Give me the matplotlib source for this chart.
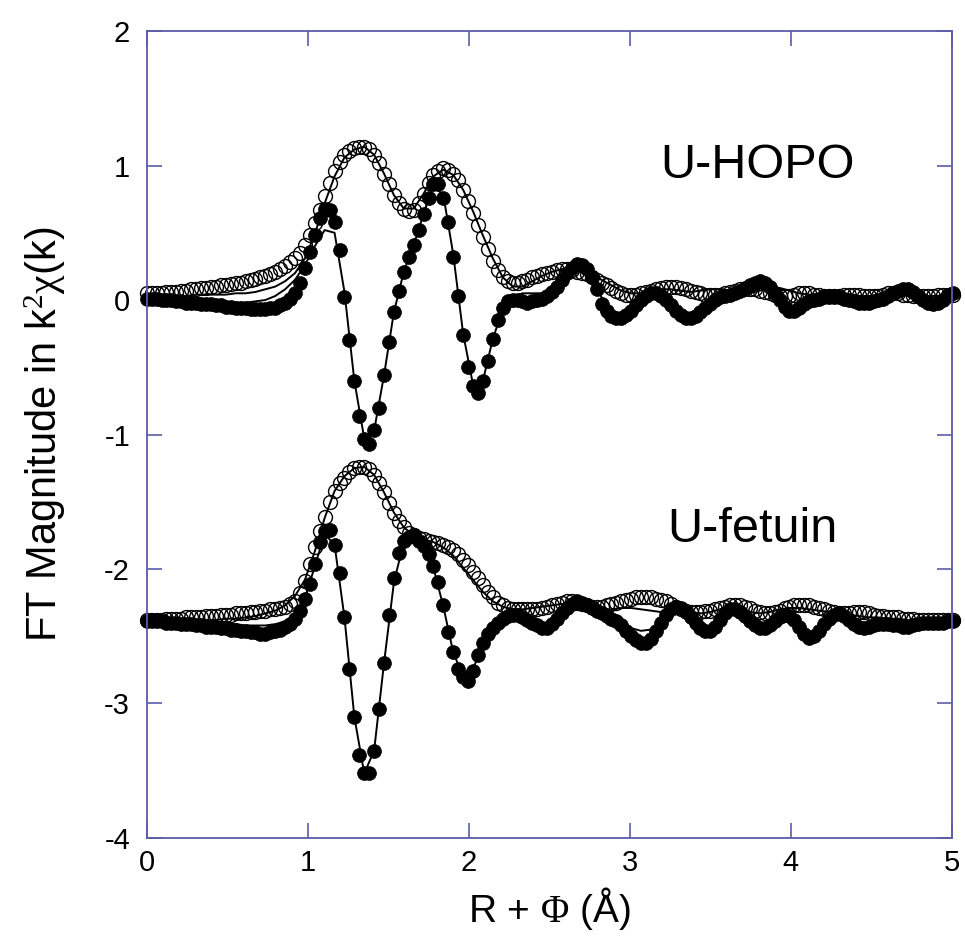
import matplotlib
matplotlib.use("Agg")
import matplotlib.pyplot as plt
import numpy as np

# FT grid step (Angstrom), data points are every dr, fits every 2*dr
dr = 0.0307

# U-HOPO, magnitude (open) and real part (filled)
hopo_mag = [0.05, 0.05, 0.05, 0.05, 0.06, 0.06, 0.06, 0.07, 0.07, 0.08,
            0.08, 0.09, 0.09, 0.10, 0.10, 0.11, 0.11, 0.12, 0.13, 0.13,
            0.14, 0.15, 0.16, 0.17, 0.18, 0.19, 0.21, 0.23, 0.25, 0.28,
            0.31, 0.35, 0.41, 0.48, 0.57, 0.67, 0.77, 0.87, 0.96, 1.03,
            1.08, 1.11, 1.13, 1.14, 1.14, 1.12, 1.08, 1.02, 0.94, 0.86,
            0.78, 0.72, 0.68, 0.66, 0.67, 0.72, 0.79, 0.87, 0.93, 0.96,
            0.98, 0.97, 0.94, 0.89, 0.82, 0.74, 0.65, 0.56, 0.47, 0.38,
            0.29, 0.22, 0.17, 0.14, 0.13, 0.13, 0.14, 0.15, 0.17, 0.18,
            0.19, 0.20, 0.21, 0.22, 0.23, 0.23, 0.22, 0.21, 0.20, 0.19,
            0.17, 0.15, 0.13, 0.11, 0.09, 0.07, 0.05, 0.04, 0.04, 0.04,
            0.05, 0.06, 0.07, 0.08, 0.09, 0.10, 0.10, 0.10, 0.09, 0.08,
            0.07, 0.06, 0.05, 0.04, 0.04, 0.04, 0.04, 0.05, 0.06, 0.07,
            0.08, 0.08, 0.08, 0.08, 0.07, 0.06, 0.05, 0.04, 0.03, 0.03,
            0.03, 0.04, 0.05, 0.05, 0.05, 0.04, 0.04, 0.03, 0.03, 0.03,
            0.03, 0.04, 0.04, 0.04, 0.04, 0.03, 0.03, 0.03, 0.03, 0.04,
            0.05, 0.05, 0.05, 0.04, 0.04, 0.03, 0.03, 0.03, 0.03, 0.03,
            0.04, 0.04, 0.04, 0.04]
hopo_re = [0.01, 0.01, 0.01, 0.00, 0.00, 0.00, -0.01, -0.01, -0.02, -0.02,
           -0.02, -0.03, -0.03, -0.03, -0.04, -0.04, -0.05, -0.05, -0.06, -0.06,
           -0.06, -0.07, -0.07, -0.07, -0.07, -0.06, -0.06, -0.04, -0.02, 0.01,
           0.05, 0.13, 0.24, 0.36, 0.48, 0.61, 0.68, 0.67, 0.58, 0.37,
           0.02, -0.30, -0.60, -0.86, -1.03, -1.07, -0.97, -0.80, -0.56, -0.31,
           -0.09, 0.07, 0.21, 0.32, 0.41, 0.52, 0.64, 0.76, 0.86, 0.86,
           0.76, 0.58, 0.32, 0.03, -0.26, -0.50, -0.64, -0.69, -0.60, -0.45,
           -0.29, -0.15, -0.06, -0.01, 0.00, 0.00, -0.01, -0.02, -0.01, 0.00,
           0.01, 0.03, 0.06, 0.10, 0.15, 0.20, 0.24, 0.27, 0.26, 0.23,
           0.17, 0.08, -0.03, -0.08, -0.12, -0.13, -0.13, -0.11, -0.08, -0.04,
           0.00, 0.03, 0.05, 0.05, 0.03, 0.00, -0.04, -0.08, -0.11, -0.13,
           -0.13, -0.12, -0.09, -0.06, -0.03, 0.00, 0.02, 0.03, 0.04, 0.05,
           0.07, 0.09, 0.11, 0.13, 0.14, 0.13, 0.10, 0.05, 0.00, -0.05,
           -0.08, -0.08, -0.06, -0.03, -0.01, 0.00, 0.01, 0.02, 0.02, 0.02,
           0.02, 0.01, 0.00, -0.01, -0.02, -0.02, -0.02, -0.01, 0.00, 0.01,
           0.03, 0.05, 0.07, 0.08, 0.08, 0.06, 0.03, 0.00, -0.02, -0.03,
           -0.02, 0.00, 0.03, 0.05]

# U-fetuin (plotted with its own baseline near -2.4)
fet_mag = [-2.38, -2.38, -2.38, -2.38, -2.37, -2.37, -2.37, -2.37, -2.36, -2.36,
           -2.36, -2.36, -2.35, -2.35, -2.35, -2.34, -2.34, -2.34, -2.33, -2.33,
           -2.33, -2.32, -2.32, -2.31, -2.31, -2.30, -2.30, -2.29, -2.28, -2.26,
           -2.24, -2.18, -2.09, -1.96, -1.84, -1.72, -1.61, -1.50, -1.42, -1.36,
           -1.32, -1.28, -1.25, -1.24, -1.24, -1.26, -1.30, -1.36, -1.43, -1.51,
           -1.58, -1.64, -1.69, -1.73, -1.75, -1.77, -1.78, -1.79, -1.80, -1.81,
           -1.82, -1.84, -1.86, -1.89, -1.93, -1.97, -2.02, -2.07, -2.12, -2.17,
           -2.21, -2.25, -2.27, -2.29, -2.30, -2.30, -2.30, -2.30, -2.30, -2.30,
           -2.29, -2.28, -2.27, -2.26, -2.25, -2.24, -2.24, -2.25, -2.26, -2.27,
           -2.28, -2.28, -2.28, -2.27, -2.26, -2.25, -2.24, -2.23, -2.22, -2.21,
           -2.21, -2.21, -2.21, -2.22, -2.23, -2.24, -2.26, -2.28, -2.30, -2.31,
           -2.32, -2.32, -2.32, -2.31, -2.31, -2.30, -2.29, -2.28, -2.27, -2.27,
           -2.27, -2.28, -2.29, -2.31, -2.32, -2.33, -2.33, -2.32, -2.31, -2.29,
           -2.28, -2.27, -2.27, -2.27, -2.27, -2.28, -2.29, -2.30, -2.31, -2.32,
           -2.33, -2.33, -2.33, -2.32, -2.32, -2.32, -2.33, -2.34, -2.35, -2.35,
           -2.36, -2.36, -2.36, -2.37, -2.37, -2.37, -2.38, -2.38, -2.38, -2.38,
           -2.38, -2.38, -2.38, -2.38]
fet_re = [-2.39, -2.39, -2.39, -2.39, -2.40, -2.40, -2.40, -2.41, -2.41, -2.41,
          -2.42, -2.42, -2.43, -2.43, -2.43, -2.44, -2.44, -2.45, -2.45, -2.46,
          -2.46, -2.47, -2.47, -2.48, -2.48, -2.47, -2.46, -2.45, -2.43, -2.41,
          -2.37, -2.31, -2.22, -2.11, -1.96, -1.80, -1.72, -1.71, -1.82, -2.03,
          -2.36, -2.74, -3.10, -3.38, -3.52, -3.52, -3.35, -3.04, -2.70, -2.34,
          -2.07, -1.88, -1.79, -1.76, -1.75, -1.79, -1.83, -1.89, -1.98, -2.10,
          -2.27, -2.47, -2.62, -2.74, -2.80, -2.83, -2.76, -2.64, -2.55, -2.48,
          -2.44, -2.40, -2.37, -2.35, -2.34, -2.34, -2.36, -2.38, -2.40, -2.42,
          -2.44, -2.44, -2.41, -2.37, -2.33, -2.29, -2.26, -2.24, -2.25, -2.27,
          -2.29, -2.31, -2.33, -2.35, -2.37, -2.39, -2.42, -2.46, -2.50, -2.53,
          -2.55, -2.55, -2.52, -2.46, -2.40, -2.34, -2.30, -2.28, -2.29, -2.32,
          -2.36, -2.40, -2.44, -2.46, -2.46, -2.43, -2.38, -2.33, -2.30, -2.30,
          -2.32, -2.35, -2.39, -2.42, -2.44, -2.44, -2.42, -2.39, -2.36, -2.34,
          -2.35, -2.38, -2.43, -2.48, -2.51, -2.50, -2.46, -2.41, -2.37, -2.34,
          -2.33, -2.35, -2.38, -2.41, -2.43, -2.44, -2.43, -2.42, -2.41, -2.41,
          -2.41, -2.42, -2.42, -2.43, -2.43, -2.42, -2.41, -2.40, -2.40, -2.40,
          -2.40, -2.40, -2.39, -2.39]

# fits (every second grid point)
hopo_mag_fit = [0.03, 0.03, 0.03, 0.03, 0.03, 0.04, 0.04, 0.04, 0.04, 0.05,
                0.05, 0.06, 0.08, 0.10, 0.14, 0.20, 0.31, 0.49, 0.72, 0.92,
                1.06, 1.12, 1.14, 1.08, 0.94, 0.78, 0.68, 0.68, 0.79, 0.92,
                0.97, 0.93, 0.82, 0.66, 0.48, 0.31, 0.17, 0.10, 0.10, 0.14,
                0.18, 0.21, 0.23, 0.23, 0.22, 0.19, 0.15, 0.11, 0.07, 0.05,
                0.05, 0.07, 0.08, 0.08, 0.07, 0.06, 0.07, 0.08, 0.08, 0.07,
                0.05, 0.05, 0.07, 0.09, 0.09, 0.07, 0.05, 0.04, 0.04, 0.04,
                0.04, 0.04, 0.03, 0.03, 0.03, 0.04, 0.05, 0.05, 0.04, 0.03,
                0.03, 0.04]
hopo_re_fit = [0.00, 0.00, 0.00, 0.00, 0.00, -0.01, -0.01, -0.01, -0.02, -0.02,
               -0.02, -0.01, 0.00, 0.03, 0.08, 0.15, 0.26, 0.40, 0.52, 0.50,
               0.06, -0.60, -1.03, -0.97, -0.56, -0.09, 0.21, 0.41, 0.64, 0.85,
               0.78, 0.34, -0.25, -0.63, -0.60, -0.29, -0.07, 0.02, 0.05, 0.05,
               0.05, 0.09, 0.16, 0.23, 0.24, 0.17, 0.02, -0.09, -0.11, -0.07,
               0.00, 0.05, 0.04, -0.02, -0.08, -0.11, -0.08, -0.02, 0.03, 0.06,
               0.08, 0.10, 0.12, 0.10, 0.02, -0.05, -0.05, -0.01, 0.01, 0.02,
               0.02, 0.00, -0.02, -0.02, 0.00, 0.03, 0.06, 0.07, 0.04, 0.00,
               -0.02, 0.02]
fet_mag_fit = [-2.39, -2.39, -2.39, -2.39, -2.39, -2.38, -2.38, -2.38, -2.37, -2.37,
               -2.36, -2.35, -2.33, -2.31, -2.27, -2.20, -2.08, -1.87, -1.62, -1.42,
               -1.31, -1.25, -1.24, -1.30, -1.43, -1.58, -1.69, -1.75, -1.78, -1.80,
               -1.84, -1.90, -1.99, -2.08, -2.17, -2.24, -2.28, -2.30, -2.30, -2.29,
               -2.28, -2.27, -2.26, -2.26, -2.27, -2.29, -2.30, -2.30, -2.29, -2.29,
               -2.30, -2.31, -2.32, -2.31, -2.31, -2.32, -2.33, -2.32, -2.30, -2.29,
               -2.30, -2.32, -2.33, -2.32, -2.30, -2.29, -2.29, -2.30, -2.31, -2.32,
               -2.33, -2.34, -2.35, -2.36, -2.36, -2.37, -2.37, -2.38, -2.38, -2.38,
               -2.38, -2.38]
fet_re_fit = [-2.40, -2.40, -2.40, -2.40, -2.40, -2.40, -2.40, -2.40, -2.41, -2.41,
              -2.42, -2.42, -2.42, -2.41, -2.39, -2.34, -2.22, -1.98, -1.74, -1.82,
              -2.36, -3.10, -3.52, -3.35, -2.70, -2.10, -1.80, -1.75, -1.83, -1.99,
              -2.28, -2.62, -2.80, -2.75, -2.54, -2.42, -2.36, -2.35, -2.37, -2.40,
              -2.43, -2.41, -2.34, -2.27, -2.26, -2.30, -2.34, -2.38, -2.41, -2.44,
              -2.46, -2.45, -2.40, -2.33, -2.31, -2.36, -2.43, -2.45, -2.38, -2.31,
              -2.32, -2.39, -2.44, -2.42, -2.36, -2.35, -2.42, -2.49, -2.46, -2.37,
              -2.33, -2.38, -2.43, -2.43, -2.41, -2.41, -2.42, -2.43, -2.41, -2.40,
              -2.40, -2.39]

labels = ["U-HOPO", "U-fetuin"]
label_pos = [(3.79, 1.0), (3.76, -1.71)]

plt.rcParams['font.family'] = ['Liberation Sans', 'DejaVu Sans']
plt.rcParams['axes.unicode_minus'] = False
plt.rcParams['mathtext.fontset'] = 'custom'
plt.rcParams['mathtext.rm'] = 'Liberation Serif'
plt.rcParams['mathtext.it'] = 'Liberation Serif'
axcol = '#5c5ca8'

fig = plt.figure(figsize=(9.65, 9.41), dpi=100)
ax = fig.add_axes([0.152, 0.1095, 0.8345, 0.8575])

r = dr * np.arange(len(hopo_mag))
rf = 2 * dr * np.arange(len(hopo_mag_fit))

for mag, re in [(hopo_mag, hopo_re), (fet_mag, fet_re)]:
    ax.plot(r, mag, 'o', ms=10, mfc='none', mec='black', mew=1.0, clip_on=False)
    ax.plot(r, re, 'o', ms=10, mfc='black', mec='black', mew=0.5, clip_on=False)
for fit in [hopo_mag_fit, hopo_re_fit, fet_mag_fit, fet_re_fit]:
    ax.plot(rf, fit, '-', color='black', lw=1.4)

for txt, (tx, ty) in zip(labels, label_pos):
    ax.text(tx, ty, txt, fontsize=35, ha='center', va='center')

ax.set_xlim(0, 5)
ax.set_ylim(-4, 2)
ax.set_xticks([0, 1, 2, 3, 4, 5])
ax.set_yticks([-4, -3, -2, -1, 0, 1, 2])
for s in ax.spines.values():
    s.set_color(axcol)
    s.set_linewidth(1.3)
ax.tick_params(direction='in', length=11, width=1.2, color=axcol,
               top=True, right=True, labelsize=21)
ax.tick_params(axis='x', pad=8)
ax.tick_params(axis='y', pad=12)
ax.set_xlabel('R + $\\Phi$ (Å)', fontsize=28, labelpad=6)
ax.set_ylabel('FT Magnitude in k$^2$$\\chi$(k)', fontsize=30, labelpad=26)

fig.savefig('out.png', dpi=100)
